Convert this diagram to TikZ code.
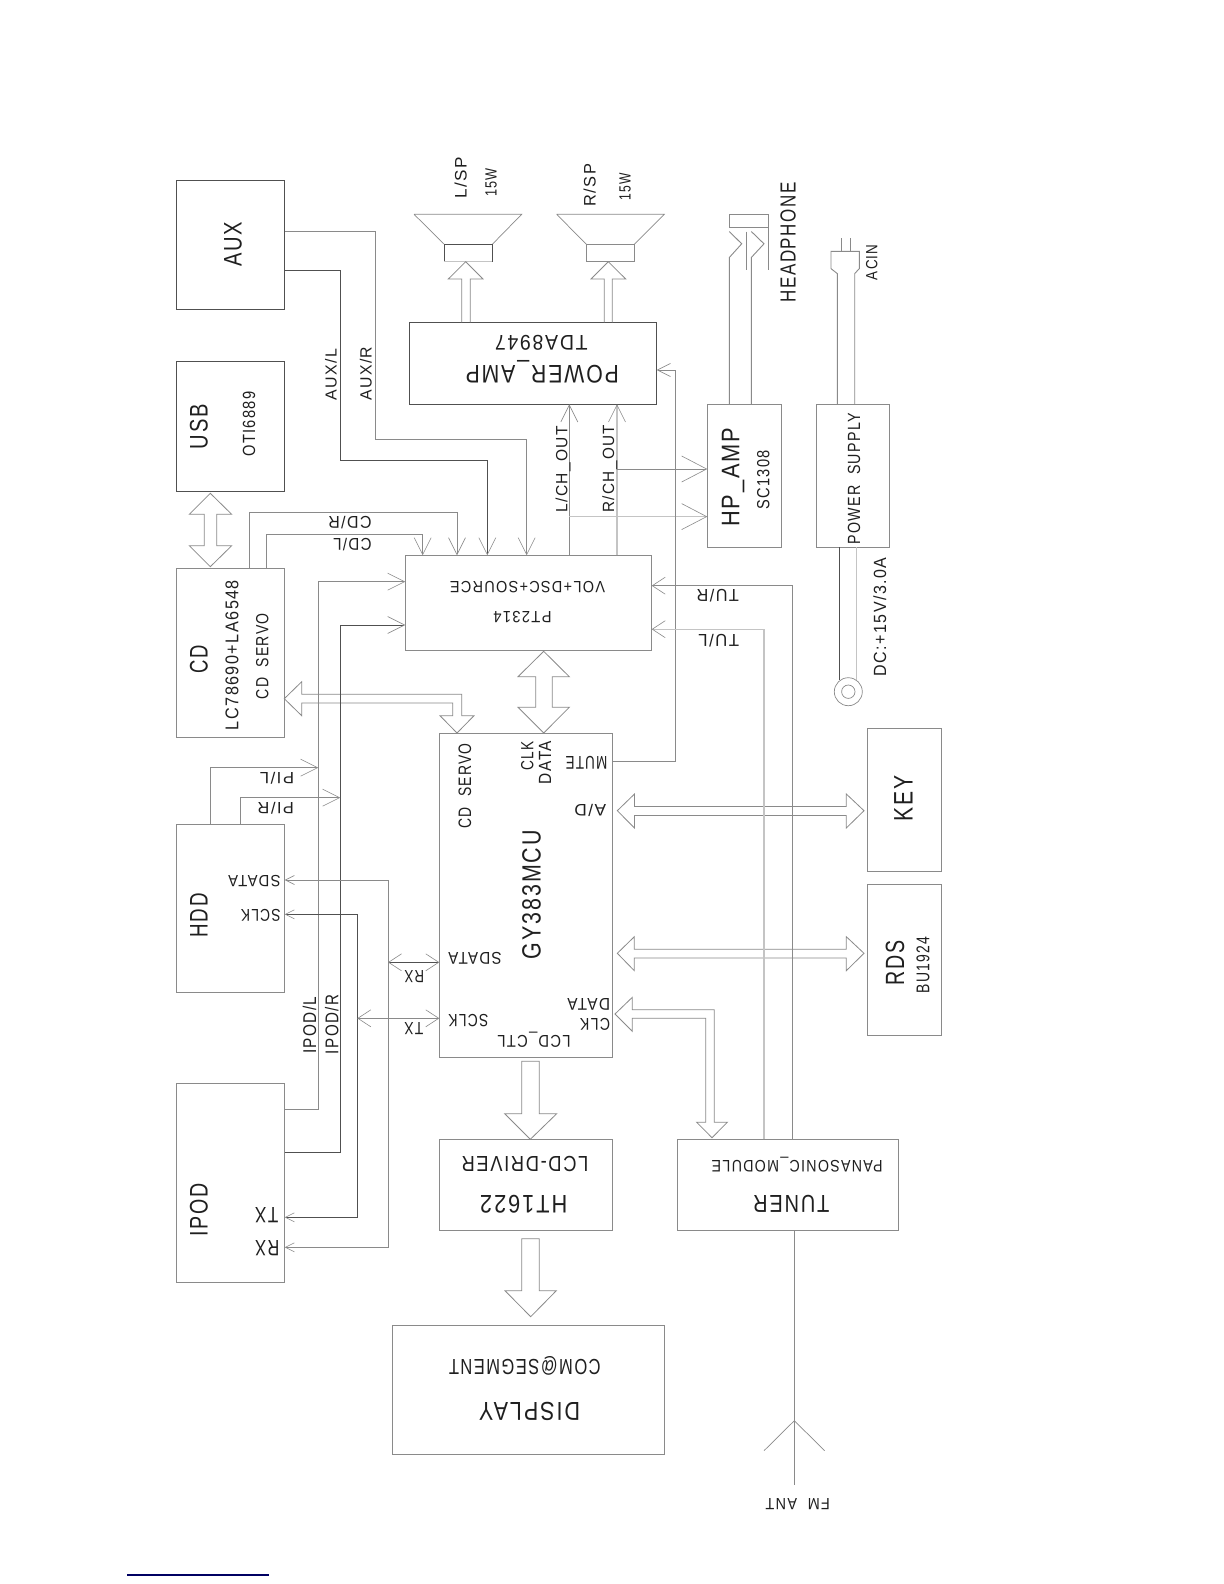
\documentclass[tikz,border=0pt]{standalone}
\usepackage{fontspec}
\setmainfont[LetterSpace=9]{Liberation Sans}
\usetikzlibrary{arrows.meta}
\definecolor{dk}{HTML}{505050}
\definecolor{md}{HTML}{8A8A8A}
\definecolor{lt}{HTML}{C4C4C4}
\newcommand\tl[3]{\resizebox{\fpeval{#2*0.5}pt}{\height}{\fontsize{\fpeval{#1*0.694}pt}{\fpeval{#1*0.8}pt}\selectfont #3}}
\newcommand\tup[6]{\node[tvert] (#1) at (#2,#3) {\tl{#4}{#5}{#6}};}
\newcommand\tdn[6]{\node[tflip] (#1) at (#2,#3) {\tl{#4}{#5}{#6}};}
\newcommand\bx[6]{\node[blockbox,draw=#6,minimum width={(#4-#2)*0.5pt},minimum height={(#5-#3)*0.5pt}] (#1) at ({(#2+#4)/2},{(#3+#5)/2}) {};}
\tikzset{
  blockbox/.style={rectangle,inner sep=0pt,outer sep=0pt,line width=0.45pt},
  tvert/.style={rotate=90,anchor=base,inner sep=0pt,outer sep=0pt,text=black!88},
  tflip/.style={rotate=180,anchor=base,inner sep=0pt,outer sep=0pt,text=black!88},
  wire/.style={line width=0.45pt,draw=md},
  wiredk/.style={line width=0.45pt,draw=dk},
  wirelt/.style={line width=0.6pt,draw=lt},
  thinl/.style={line width=0.35pt,draw=md},
  blockar/.style={line width=0.4pt,draw=md,line join=miter},
  barbL/.tip={Straight Barb[length=8.5pt,width=8.5pt,line width=0.3pt,color=md]},
  barbS/.tip={Straight Barb[length=6.5pt,width=8.5pt,line width=0.3pt,color=md]},
  barbM/.tip={Straight Barb[length=6.5pt,width=6.5pt,line width=0.3pt,color=md]},
  barbH/.tip={Straight Barb[length=12.5pt,width=13pt,line width=0.3pt,color=md]},
  barbT/.tip={Straight Barb[length=4.5pt,width=4.5pt,line width=0.3pt,color=md]},
  arrL/.style={-barbL},
  arrS/.style={-barbS},
  arrM/.style={-barbM},
  arrH/.style={-barbH},
  arrT/.style={barbT-barbT},
  arrD/.style={barbS-barbS},
}
\begin{document}
\begin{tikzpicture}[x=0.5pt,y=-0.5pt]
\path[fill=white,use as bounding box] (0,0) rectangle (1224,1584);
% boxes
\bx{aux}{176.3}{180.3}{284.7}{309.3}{dk}
\bx{usb}{176.3}{361.3}{284.7}{491.3}{dk}
\bx{cd}{176.3}{568.3}{284.7}{737.3}{md}
\bx{hdd}{176.3}{824}{284.7}{992.3}{md}
\bx{ipod}{176.3}{1083.3}{284.7}{1282.3}{md}
\bx{pt}{405.3}{555.3}{651.7}{650.3}{md}
\bx{pwr}{409.3}{322.3}{656.7}{404.3}{dk}
\bx{mcu}{439.3}{733}{612.7}{1057}{md}
\bx{lcd}{439.3}{1139.3}{612.7}{1230.3}{md}
\bx{disp}{392.3}{1325.3}{664.7}{1454.7}{md}
\bx{tun}{677.3}{1139.3}{898}{1230.3}{md}
\bx{key}{867.7}{728.3}{941.3}{871.3}{md}
\bx{rds}{867.7}{884.3}{941.3}{1035}{md}
\bx{hp}{707.3}{404.5}{781.3}{547.2}{md}
\bx{ps}{816}{404.5}{889.3}{547.2}{md}
% speakers
\draw[thinl] (414,214.3) -- (521.7,214.3) -- (492.3,244.3) (444.3,244.3) -- (414,214.3);
\draw[wiredk] (444.3,261.7) -- (444.3,244.3) -- (492.3,244.3) -- (492.3,261.7);
\draw[wirelt] (444.3,261.7) -- (492.3,261.7);
\draw[thinl] (556.7,214.3) -- (664.3,214.3) -- (634.3,244.3) (586.3,244.3) -- (556.7,214.3);
\draw[wire] (586.3,244.3) rectangle (634.3,261.7);
% block arrows
\draw[blockar] (pwr.north -| 461.7,0) -- (461.7,279) -- (448.3,279) -- (465.7,261.7) -- (483,279) -- (470.3,279) -- (pwr.north -| 470.3,0);
\draw[blockar] (pwr.north -| 604.3,0) -- (604.3,279) -- (591,279) -- (608.3,261.7) -- (625.7,279) -- (612.3,279) -- (pwr.north -| 612.3,0);
\draw[blockar] (210.3,493.3) -- (231.7,514.3) -- (216.7,514.3) -- (216.7,545.7) -- (231.7,545.7) -- (210.3,566.7) -- (189.3,545.7) -- (204.3,545.7) -- (204.3,514.3) -- (189.3,514.3) -- cycle;
\draw[blockar] (543.7,651.3) -- (569.3,676.7) -- (552.3,676.7) -- (552.3,707.3) -- (569.3,707.3) -- (543.7,733) -- (518,707.3) -- (535.7,707.3) -- (535.7,676.7) -- (518,676.7) -- cycle;
\draw[blockar] (284.3,698.7) -- (301.7,681.7) -- (301.7,694.3) -- (461.7,694.3) -- (461.7,715.7) -- (474,715.7) -- (457,733) -- (440,715.7) -- (452.7,715.7) -- (452.7,703) -- (301.7,703) -- (301.7,715.7) -- cycle;
\draw[blockar] (617.3,810.7) -- (634.5,794) -- (634.5,806.5) -- (846.3,806.5) -- (846.3,794) -- (864,810.7) -- (846.3,828) -- (846.3,815.5) -- (634.5,815.5) -- (634.5,828) -- cycle;
\draw[blockar] (617.3,953.3) -- (634.3,936.7) -- (634.3,949.3) -- (846.3,949.3) -- (846.3,936.7) -- (864,953.3) -- (846.3,970.7) -- (846.3,958) -- (634.3,958) -- (634.3,970.7) -- cycle;
\draw[blockar] (615,1014) -- (632.3,997.3) -- (632.3,1009.7) -- (714.3,1009.7) -- (714.3,1122.3) -- (727.3,1122.3) -- (712,1137.7) -- (696.7,1122.3) -- (705.7,1122.3) -- (705.7,1018.3) -- (632.3,1018.3) -- (632.3,1031.3) -- cycle;
\draw[blockar] (521.7,1061.3) -- (539.3,1061.3) -- (539.3,1113.7) -- (556.7,1113.7) -- (530.3,1139.3) -- (504.7,1113.7) -- (521.7,1113.7) -- cycle;
\draw[blockar] (521.7,1238.7) -- (539.3,1238.7) -- (539.3,1290.7) -- (556.3,1290.7) -- (530.7,1316.7) -- (505,1290.7) -- (521.7,1290.7) -- cycle;
% connectors
\draw[wire,arrL] (aux.east |- 0,231) -| (375,439.3) -| (pt.north -| 526.7,0);
\draw[wiredk,arrL] (aux.east |- 0,270.3) -| (340.7,460.7) -| (pt.north -| 487.3,0);
\draw[wire,arrL] (cd.north -| 249.3,0) |- (457,512.3) -- (pt.north -| 457,0);
\draw[wire,arrL] (cd.north -| 266.7,0) |- (422.7,534.3) -- (pt.north -| 422.7,0);
\draw[wire,arrL] (pt.north -| 569.3,0) -- (pwr.south -| 569.3,0);
\draw[wirelt,arrL] (pt.north -| 617,0) -- (pwr.south -| 617,0);
\coordinate (lout) at (569.3,516.6);
\coordinate (rout) at (617,469);
\draw[wirelt,arrH] (lout) -- (hp.west |- lout);
\draw[wire,arrH] (rout) -- (hp.west |- rout);
\draw[wire,arrM] (mcu.east |- 0,761) -| (675.7,370) -- (pwr.east |- 0,370);
\draw[wire,arrS] (tun.north -| 792.5,0) |- (pt.east |- 0,585.7);
\draw[wirelt,arrS] (tun.north -| 764,0) |- (pt.east |- 0,629.2);
\draw[wire,arrL] (ipod.east |- 0,1109.3) -| (318.3,581.7) -- (pt.west |- 0,581.7);
\draw[wiredk,arrL] (ipod.east |- 0,1152.3) -| (340.3,625) -- (pt.west |- 0,625);
\draw[wire,arrL] (hdd.north -| 210.7,0) |- (318.3,767.7);
\draw[wire,arrL] (hdd.north -| 240.7,0) |- (340.3,797.7);
\draw[wire,arrT] (hdd.east |- 0,880) -- (388,880) -- (388,1247.3) -- (ipod.east |- 0,1247.3);
\draw[wiredk,arrT] (hdd.east |- 0,914.3) -- (357.3,914.3) -- (357.3,1217.3) -- (ipod.east |- 0,1217.3);
\coordinate (sdj) at (388,962.3);
\coordinate (sclj) at (357.3,1018.3);
\draw[wiredk,arrD] (sdj) -- (mcu.west |- sdj);
\draw[wire,arrD] (sclj) -- (mcu.west |- sclj);
% antenna
\coordinate (antend) at (794.3,1485);
\draw[wire] (tun.south -| 794.3,0) -- (antend);
\draw[thinl] (764,1450.7) -- (794.3,1420.7) -- (824.7,1450.7);
% headphone jack
\draw[wire] (hp.north -| 729.3,0) -- (729.3,257.5) -- (741.7,243.8) -- (729.3,231.5);
\draw[wire] (hp.north -| 751.3,0) -- (751.3,257.5) -- (764,243.8) -- (751.3,231.5);
\draw[wire] (746.3,231.5) -- (746.3,269.8);
\draw[wire] (729.3,227.7) -- (729.3,214.3) -- (768.3,214.3) -- (768.3,269.8);
\draw[wire] (729.3,227.7) -- (768.3,227.7);
% AC plug
\draw[wire] (ps.north -| 837.3,0) -- (837.3,273.6) -- (831,268.6) -- (831,251.4) -- (859.3,251.4) -- (859.3,268.6) -- (854.7,273.6) -- (ps.north -| 854.7,0);
\draw[thinl] (841.3,238) -- (841.3,251.4) (850.7,238) -- (850.7,251.4);
% DC jack
\draw[wiredk] (ps.south -| 839.3,0) -- (839.3,680);
\draw[wirelt] (ps.south -| 856.7,0) -- (856.7,680);
\draw[thinl] (848.3,691.7) circle (14);
\draw[thinl] (848.3,691.7) circle (6.7);
% footnote rule
\draw[line width=0.7pt,draw=black!30!blue!55!black] (127,1575) -- (269,1575);
% text, vertical
\tup{taux}{241.7}{244.2}{18.3}{45}{AUX}
\tup{tusb}{207.7}{426.5}{18.3}{45}{USB}
\tup{toti}{255}{424.2}{12.7}{65}{OTI6889}
\tup{tauxl}{336.7}{374.8}{11.5}{51.7}{AUX/L}
\tup{tauxr}{371.7}{373.7}{11.7}{54}{AUX/R}
\tup{tlsp}{466.7}{177.5}{12}{41.7}{L/SP}
\tup{twl}{496.7}{182.5}{11.7}{28.3}{15W}
\tup{trsp}{595.7}{185.3}{12}{42.7}{R/SP}
\tup{twr}{630.7}{187}{11.7}{27}{15W}
\tup{tlch}{567.3}{469.3}{11.7}{86.7}{L/CH\_OUT}
\tup{trch}{614}{468.8}{11.7}{87.7}{R/CH\_OUT}
\tup{tcd}{207.7}{659.2}{18.3}{28.3}{CD}
\tup{tlc}{238.3}{655}{13.3}{150}{LC78690+LA6548}
\tup{tservo}{268.3}{656.3}{12.7}{86}{CD\ \ SERVO}
\tup{tmservo}{471}{785.8}{13}{85}{CD\ \ SERVO}
\tup{tclk}{533.3}{756.2}{12.7}{29}{CLK}
\tup{tdata}{551}{762.5}{12.7}{43}{DATA}
\tup{thdd}{207.7}{915.3}{18.3}{44}{HDD}
\tup{tipod}{207.7}{1210}{18.3}{53.3}{IPOD}
\tup{tipl}{316}{1025.3}{13.3}{57.3}{IPOD/L}
\tup{tipr}{338.3}{1024.5}{13.3}{59}{IPOD/R}
\tup{tgy}{540.7}{894.7}{19}{129}{GY383MCU}
\tup{tkey}{912.7}{798}{19.3}{46}{KEY}
\tup{trds}{904}{962.5}{19}{45}{RDS}
\tup{tbu}{929.3}{965}{13.3}{56.7}{BU1924}
\tup{thead}{795.7}{242.4}{15.7}{119.8}{HEADPHONE}
\tup{tacin}{877.3}{262.3}{11.7}{35.6}{ACIN}
\tup{thp}{739.3}{477.2}{18.3}{99.5}{HP\_AMP}
\tup{tsc}{769.3}{480}{12.7}{59.3}{SC1308}
\tup{tps}{860}{478.8}{12.7}{131}{POWER\ \ SUPPLY}
\tup{tdc}{886}{617}{12.7}{118.6}{DC:+15V/3.0A}
% text, upside down
\tdn{tpwr}{542.3}{365}{18.3}{153.3}{POWER\_AMP}
\tdn{ttda}{541.3}{335.7}{15.3}{92.7}{TDA8947}
\tdn{tcdr}{350}{516.7}{12.3}{43.3}{CD/R}
\tdn{tcdl}{352.5}{538.3}{12.3}{38.3}{CD/L}
\tdn{tvol}{527.5}{581.7}{11.7}{155}{VOL+DSC+SOURCE}
\tdn{tpt}{522.5}{611.7}{11.7}{58.3}{PT2314}
\tdn{tmute}{586.5}{756}{13.3}{41.7}{MUTE}
\tdn{tad}{590.2}{804}{12}{31.7}{A/D}
\tdn{tpil}{277}{772.3}{11.7}{34}{PI/L}
\tdn{tpir}{275.8}{802.3}{11.7}{36.3}{PI/R}
\tdn{tsda}{254.5}{875.7}{11.7}{52.3}{SDATA}
\tdn{tscl}{260.8}{909.3}{12.3}{39.7}{SCLK}
\tdn{ttx}{266.7}{1207.3}{16}{23.3}{TX}
\tdn{trx}{267.2}{1240}{16}{24.3}{RX}
\tdn{trx2}{414.2}{970.7}{12.7}{19.7}{RX}
\tdn{ttx2}{413.8}{1022.3}{12.7}{19}{TX}
\tdn{tmsda}{475}{952.7}{12.3}{53.3}{SDATA}
\tdn{tmscl}{468.3}{1014}{12.7}{40}{SCLK}
\tdn{tmda}{588.7}{998.3}{12.3}{42.7}{DATA}
\tdn{tmck}{595}{1018.3}{12.3}{30}{CLK}
\tdn{tlctl}{534}{1035}{12.3}{73.3}{LCD\_CTL}
\tdn{tldrv}{525}{1156}{15.7}{126.7}{LCD-DRIVER}
\tdn{tht}{523.7}{1195}{18.3}{87.3}{HT1622}
\tdn{tcom}{524.8}{1359.3}{15.7}{151.7}{COM@SEGMENT}
\tdn{tdisp}{529.5}{1402.3}{18.7}{101}{DISPLAY}
\tdn{tfm}{797.8}{1498.3}{11.7}{64.3}{FM\ \ ANT}
\tdn{tpana}{797.2}{1160.7}{12}{171}{PANASONIC\_MODULE}
\tdn{ttuner}{791.3}{1195}{17.7}{76}{TUNER}
\tdn{ttur}{717.8}{589}{12.5}{42.3}{TU/R}
\tdn{ttul}{718.7}{634.1}{12.5}{40.7}{TU/L}
\end{tikzpicture}
\end{document}
